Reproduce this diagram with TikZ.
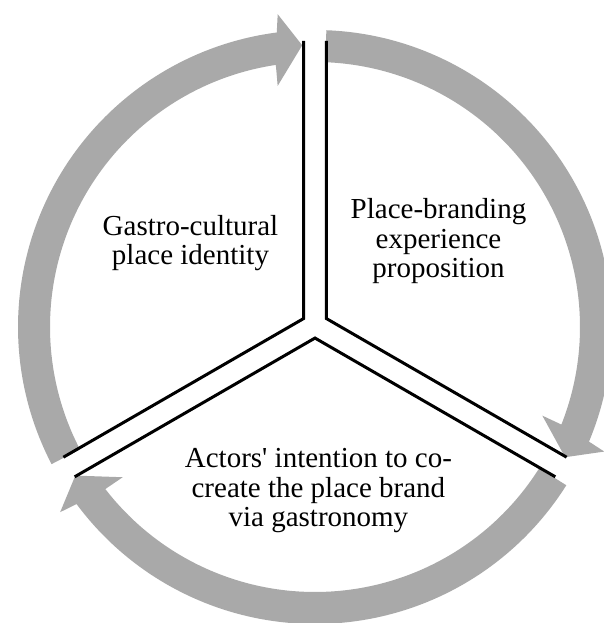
\documentclass[tikz,border=0pt]{standalone}
\usepackage{fontspec}
\setmainfont{Liberation Serif}
\definecolor{arrowgray}{RGB}{169,169,169}
\tikzset{
  cyclearrow/.style={fill=arrowgray, draw=none},
  divider/.style={draw=black, line width=3pt, line join=miter},
  label/.style={align=center, inner sep=0pt, font={\fontsize{29}{29.5}\selectfont}}
}
% #1 tail angle, #2 tip angle (clockwise travel)
\newcommand{\gCycleArrow}[2]{%
  \fill[cyclearrow] (#1:297pt) arc[start angle=#1, end angle={#2+4.8}, radius=297pt]
    -- ({#2+4.2}:315pt) -- (#2:282pt) -- ({#2+6.2}:244pt)
    -- ({#2+5.9}:265pt) arc[start angle={#2+5.9}, end angle=#1, radius=265pt] -- cycle;}
\begin{document}
\begin{tikzpicture}[x=1pt,y=1pt]
\useasboundingbox (-315,-296) rectangle (289,327);
% gray cycle arrows
\gCycleArrow{207.5}{92.6}
\gCycleArrow{87.8}{-27.5}
\gCycleArrow{-32.2}{-148.2}
% divider coordinates
\coordinate (ul) at (-11.3,8.5);
\coordinate (ur) at (11.3,8.5);
\coordinate (bc) at (0,-11.05);
\coordinate (topL) at (-11.3,286);
\coordinate (topR) at (11.3,286);
\coordinate (llU) at (-251.6,-130.2);
\coordinate (llD) at (-240.3,-149.8);
\coordinate (lrU) at (251.6,-130.2);
\coordinate (lrD) at (240.3,-149.8);
\draw[divider] (topL) -- (ul) -- (llU);
\draw[divider] (topR) -- (ur) -- (lrU);
\draw[divider] (llD) -- (bc) -- (lrD);
% labels
\node[label] (identity) at (-124.5,83.8) {Gastro-cultural\\place identity};
\node[label] (proposition) at (123.5,85.7) {Place-branding\\experience\\proposition};
\node[label] (intention) at (3.4,-163.7) {Actors\textquotesingle{} intention to co-\\create the place brand\\via gastronomy};
\end{tikzpicture}
\end{document}
